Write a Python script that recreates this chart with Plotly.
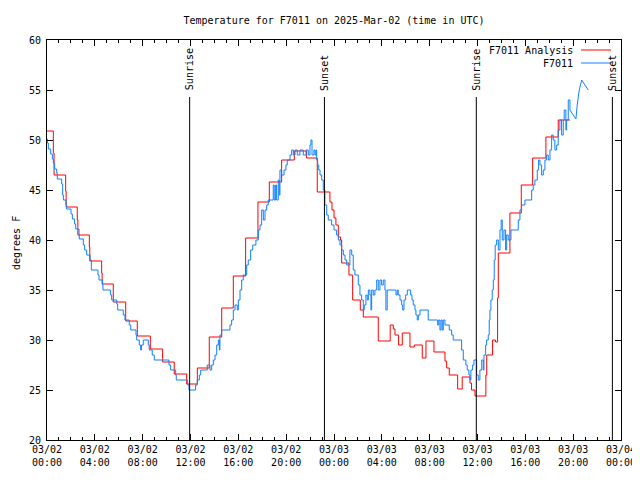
import pandas as pd
import plotly.graph_objects as go

BASE = pd.Timestamp("2025-03-02 00:00")

# Analysis series (hours after 03/02 00:00 UTC, degrees F)
analysis_hours = [0.00, 0.53, 0.59, 1.56, 1.60, 2.53, 2.58, 3.54, 3.58, 4.57, 4.61, 5.54,
                  6.58, 7.55, 8.64, 9.67, 10.64, 11.68, 12.57, 13.57, 14.61, 15.58, 16.61,
                  17.64, 18.59, 19.62, 20.68, 21.71, 22.60, 23.66, 23.83, 24.00, 24.16,
                  24.36, 24.55, 24.64, 25.25, 25.56, 26.20, 26.45, 27.70, 28.70, 28.96,
                  29.10, 29.40, 29.71, 30.35, 30.71, 31.38, 31.69, 32.36, 33.28, 33.42,
                  33.64, 34.34, 34.72, 35.37, 35.50, 35.79, 36.70, 36.77, 37.26, 37.50,
                  37.68, 37.74, 38.71, 39.66, 40.61, 41.72, 42.75, 43.73]
analysis_temps = [50.9, 48.7, 46.5, 44.9, 43.3, 42.0, 40.5, 39.3, 37.9, 36.7, 35.6, 33.8,
                  31.9, 30.4, 29.1, 27.8, 26.6, 25.6, 27.2, 30.3, 33.2, 36.4, 40.2,
                  43.8, 45.8, 48.0, 48.9, 48.2, 44.8, 43.8, 43.0, 42.2, 41.5,
                  40.3, 40.0, 37.7, 36.5, 34.0, 33.0, 32.3, 29.9, 31.5, 31.1,
                  30.5, 29.5, 30.7, 29.3, 29.5, 28.2, 29.9, 28.8, 27.9, 27.2,
                  26.5, 25.1, 26.3, 25.7, 25.0, 24.4, 26.5, 28.5, 30.0, 29.8,
                  34.2, 38.7, 42.7, 45.5, 48.2, 50.3, 52.0, 52.0]

# Observed series
obs_hours = [0.00, 0.03, 0.11, 0.31, 0.45, 0.53, 0.64, 0.81, 0.86, 1.23, 1.31, 1.37, 1.59,
             1.64, 2.01, 2.12, 2.31, 2.40, 2.68, 2.70, 3.04, 3.15, 3.32, 3.60, 3.71, 4.26,
             4.35, 4.65, 4.68, 5.32, 5.41, 5.83, 5.91, 6.38, 6.52, 6.88, 7.00, 7.44, 7.50,
             7.72, 7.83, 7.90, 8.05, 8.47, 8.55, 8.80, 8.97, 10.20, 10.34, 10.76, 10.81,
             11.76, 11.87, 12.43, 12.57, 12.74, 12.85, 13.40, 13.63, 13.77, 13.91, 14.05,
             14.19, 14.33, 14.41, 14.46, 14.60, 15.30, 15.44, 15.58, 15.72, 15.91, 16.00,
             16.14, 16.28, 16.41, 16.70, 16.83, 17.03, 17.20, 17.47, 17.67, 17.81, 17.95,
             18.09, 18.23, 18.37, 18.50, 18.92, 19.00, 19.12, 19.20, 19.34, 19.42, 19.48,
             19.62, 19.82, 19.98, 20.09, 20.32, 20.46, 20.60, 20.74, 20.93, 21.15, 21.43,
             21.66, 21.85, 21.99, 22.07, 22.16, 22.32, 22.41, 22.49, 22.55, 22.63, 22.72,
             22.83, 22.97, 23.10, 23.24, 23.39, 23.52, 23.80, 24.00, 24.22, 24.36, 24.50,
             24.64, 24.78, 24.92, 25.06, 25.33, 25.48, 25.61, 25.75, 26.03, 26.17, 26.31,
             26.45, 26.53, 26.67, 26.78, 26.87, 27.00, 27.09, 27.15, 27.28, 27.42, 27.57,
             27.70, 27.84, 27.98, 28.12, 28.26, 28.34, 28.45, 29.18, 29.29, 29.37, 29.52,
             29.66, 29.74, 29.85, 29.99, 30.13, 30.41, 30.52, 30.63, 30.77, 30.85, 30.96,
             31.05, 31.19, 31.88, 32.67, 32.76, 32.86, 32.95, 33.05, 33.14, 33.28, 33.64,
             33.84, 33.97, 34.53, 34.67, 34.81, 35.03, 35.14, 35.28, 35.37, 35.45, 35.59,
             35.70, 35.93, 36.06, 36.20, 36.35, 36.48, 36.54, 36.68, 36.76, 36.90, 36.98,
             37.04, 37.12, 37.23, 37.32, 37.40, 37.48, 37.60, 37.74, 37.88, 37.98, 38.07,
             38.21, 38.35, 38.44, 38.57, 38.80, 39.41, 39.55, 39.69, 39.97, 40.53, 40.66,
             40.80, 41.00, 41.11, 41.22, 41.36, 41.50, 41.64, 41.78, 41.92, 42.06, 42.20,
             42.33, 42.47, 42.62, 42.75, 42.89, 43.03, 43.17, 43.25, 43.39, 43.45, 43.59,
             43.73, 44.00, 44.23, 44.34, 44.51, 44.71, 45.26]
obs_temps = [50.1, 49.7, 49.1, 48.6, 48.1, 47.7, 47.1, 46.7, 46.1, 45.6, 44.5, 44.0, 43.5,
             43.1, 42.6, 42.1, 41.6, 41.1, 40.5, 40.1, 39.5, 39.0, 38.5, 38.0, 37.0, 36.5,
             36.0, 35.5, 35.0, 34.5, 34.0, 33.6, 33.0, 32.5, 32.0, 31.5, 31.0, 30.5, 30.0,
             29.5, 29.0, 29.5, 30.0, 29.5, 29.0, 28.5, 28.0, 27.5, 27.0, 26.5, 26.0,
             25.5, 25.0, 25.5, 26.0, 26.5, 27.0, 27.5, 27.0, 27.5, 28.0, 28.5,
             29.5, 30.0, 29.0, 30.5, 31.0, 31.5, 32.0, 33.0, 33.5, 33.0, 34.0,
             35.0, 36.0, 36.5, 37.5, 38.0, 39.0, 39.5, 40.0, 41.0, 41.5, 43.0,
             42.0, 43.0, 43.5, 44.0, 45.5, 44.0, 45.5, 44.0, 46.0, 44.5, 47.0,
             46.5, 47.0, 47.5, 48.0, 48.5, 49.0, 48.5, 49.0, 48.5, 49.0, 48.5,
             49.0, 48.5, 49.5, 50.0, 48.5, 49.0, 48.5, 49.0, 48.0, 47.5, 47.0,
             46.5, 46.0, 45.0, 43.5, 42.5, 42.0, 41.5, 41.0, 40.5, 40.0, 39.5,
             39.0, 38.5, 38.0, 37.5, 39.0, 38.5, 37.0, 36.5, 35.5, 34.5, 34.0,
             33.0, 33.5, 34.5, 34.0, 35.0, 34.5, 33.0, 35.0, 34.5, 35.0, 36.0,
             35.0, 36.0, 35.5, 36.0, 35.0, 33.0, 35.0, 34.5, 35.0, 34.5, 34.0,
             33.5, 33.0, 34.0, 34.5, 35.0, 34.5, 34.0, 33.5, 33.0, 32.5, 32.0,
             32.5, 33.0, 32.0, 31.5, 32.0, 31.0, 32.0, 31.0, 32.0, 31.5, 31.0,
             30.5, 30.0, 30.0, 29.0, 28.0, 27.5, 27.0, 26.5, 26.0, 27.0, 27.5,
             28.0, 26.5, 26.0, 27.0, 28.0, 27.0, 28.5, 29.5, 30.0, 30.5, 32.0,
             33.0, 34.0, 35.0, 36.0, 38.0, 39.5, 40.0, 39.0, 41.0, 42.0, 40.0,
             41.0, 39.0, 40.5, 40.0, 41.0, 42.0, 43.0, 43.5, 44.0, 45.0, 45.5,
             46.0, 47.0, 48.0, 47.5, 46.5, 47.0, 48.0, 48.5, 48.0, 49.0, 50.5,
             50.0, 49.0, 49.5, 51.0, 52.0, 50.5, 52.0, 53.0, 51.0, 52.0, 54.0,
             53.0, 52.5, 52.1, 53.5, 55.0, 56.0, 55.0]

sun_labels = ["Sunrise", "Sunset", "Sunrise", "Sunset"]
sun_hours = [11.93, 23.20, 35.90, 47.28]

title_text = "Temperature for F7011 on 2025-Mar-02 (time in UTC)"
y_title = "degrees F"
series_names = ["F7011 Analysis", "F7011"]

RED = "#ff0000"
BLUE = "#1080ff"
FONT = "DejaVu Sans Mono"
LW = 1.0

# page has an 8px body margin; compensate so the plot sits where the reference has it
OFF = 8
L, R, T, B = 47, 621, 40, 440   # plot box in window pixels


def to_time(hours):
    return [BASE + pd.Timedelta(hours=h) for h in hours]


def px(x):
    return (x - L) / (R - L)


def py(y):
    return (B - y) / (B - T)


obs_t = to_time(obs_hours)
an_t = to_time(analysis_hours)
split = obs_hours.index(43.73)

fig = go.Figure()
fig.add_trace(go.Scatter(x=an_t, y=analysis_temps, mode="lines", line=dict(color=RED, width=LW, shape="hv"),
                         name=series_names[0], showlegend=False))
fig.add_trace(go.Scatter(x=obs_t[:split + 1], y=obs_temps[:split + 1], mode="lines",
                         line=dict(color=BLUE, width=LW, shape="hv"), name=series_names[1], showlegend=False))
fig.add_trace(go.Scatter(x=obs_t[split:], y=obs_temps[split:], mode="lines",
                         line=dict(color=BLUE, width=LW), name=series_names[1], showlegend=False))

shapes = []
annotations = []
for lab, h in zip(sun_labels, sun_hours):
    t = BASE + pd.Timedelta(hours=h)
    shapes.append(dict(type="line", xref="x", yref="y", x0=t, x1=t, y0=20, y1=54.3,
                       line=dict(color="black", width=1)))
    annotations.append(dict(xref="x", yref="y", x=t, y=54.75, text=lab, textangle=-90,
                            showarrow=False, xanchor="center", yanchor="bottom",
                            font=dict(family=FONT, size=10, color="black")))

for name, col, ypix in [(series_names[0], RED, 50), (series_names[1], BLUE, 63)]:
    annotations.append(dict(xref="paper", yref="paper", x=px(575), y=py(ypix), text=name,
                            showarrow=False, xanchor="right", yanchor="middle",
                            font=dict(family=FONT, size=10, color="black")))
    shapes.append(dict(type="line", xref="paper", yref="paper", x0=px(581), x1=px(611),
                       y0=py(ypix), y1=py(ypix), line=dict(color=col, width=LW)))

annotations.append(dict(xref="paper", yref="paper", x=px(16), y=py(243), text=y_title, textangle=-90,
                        showarrow=False, xanchor="center", yanchor="middle",
                        font=dict(family=FONT, size=10, color="black")))

fig.update_layout(
    width=640, height=480,
    margin=dict(l=L - OFF, r=640 - R + OFF, t=T - OFF, b=480 - B + OFF, autoexpand=False),
    paper_bgcolor="white", plot_bgcolor="white",
    font=dict(family=FONT, size=10, color="black"),
    title=dict(text=title_text, x=px(334), xref="paper", xanchor="center",
               y=1 - (20 - OFF) / 480, yref="container", yanchor="middle",
               font=dict(family=FONT, size=10, color="black")),
    shapes=shapes, annotations=annotations,
    showlegend=False,
)
fig.update_xaxes(type="date", range=[BASE, BASE + pd.Timedelta(hours=48)],
                 tick0=BASE, dtick=4 * 3600 * 1000, tickformat="%m/%d<br>%H:%M",
                 ticks="inside", ticklen=6, tickcolor="black", mirror="ticks",
                 showline=True, linecolor="black", linewidth=1, showgrid=False, zeroline=False,
                 minor=dict(dtick=3600 * 1000, ticks="inside", ticklen=3, tickcolor="black", showgrid=False),
                 tickfont=dict(family=FONT, size=10, color="black"))
fig.update_yaxes(range=[20, 60], dtick=5, ticks="inside", ticklen=6, tickcolor="black",
                 mirror="ticks", showline=True, linecolor="black", linewidth=1,
                 showgrid=False, zeroline=False, ticklabelstandoff=3,
                 tickfont=dict(family=FONT, size=10, color="black"))

fig.write_html("out.html")
